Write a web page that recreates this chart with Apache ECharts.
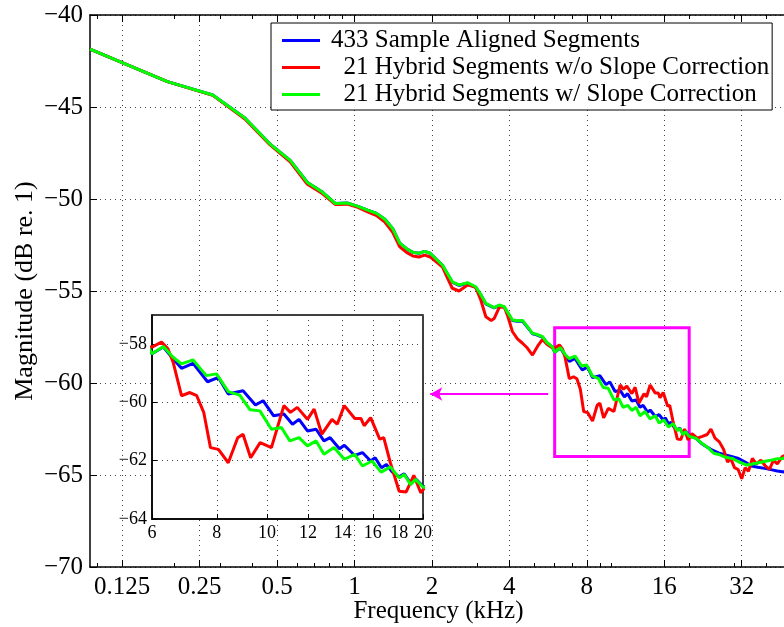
<!DOCTYPE html>
<html><head><meta charset="utf-8">
<script src="https://cdn.jsdelivr.net/npm/echarts@6/dist/echarts.min.js"></script>
<style>html,body{margin:0;padding:0;background:#fff}#c{width:784px;height:627px}</style>
</head><body><div id="c"></div>
<script>
// ---------------- data (frequency in kHz, magnitude in dB) ----------------
const seriesNames = ['433 Sample Aligned Segments', '  21 Hybrid Segments w/o Slope Correction', '  21 Hybrid Segments w/ Slope Correction'];
const seriesColors = ['#0000ff', '#ff0000', '#00ff00'];

const mainXTicks = [0.125, 0.25, 0.5, 1, 2, 4, 8, 16, 32];
const mainXMinorTicks = [0.1, 0.2, 0.3, 0.4, 0.6, 0.7, 0.8, 0.9, 3, 5, 6, 7, 9, 10, 20, 30, 40];
const insetXTicks = [6, 8, 10, 12, 14, 16, 18, 20];

const blueFreq = [0.09375, 0.1875, 0.28125, 0.375, 0.46875, 0.5625, 0.65625, 0.75, 0.84375, 0.9375, 1.03125, 1.125, 1.21875, 1.3125, 1.40625, 1.5, 1.59375, 1.6875, 1.78125, 1.875, 1.96875,
  2.2, 2.4, 2.55, 2.75, 2.96, 3.1, 3.24, 3.49, 3.65, 3.82, 4.11, 4.3, 4.5, 4.92, 5.1, 5.38, 5.6, 5.88,
  6.0, 6.31, 6.59, 6.84, 7.2, 7.68, 8.06, 8.42, 8.99, 9.5, 9.83, 10.3, 10.78, 11.2, 11.53, 11.97, 12.44, 12.88, 13.24, 13.8, 14.1, 14.77, 15.28, 15.85, 16.17, 16.63, 17.0, 17.45, 17.99, 18.4, 18.93, 19.35, 20.0,
  21.2, 22.4, 23.6, 24.5, 26.0, 27.7, 29.4, 31.1, 33.0, 34.9, 37.0, 39.3, 42.0, 44.0, 46.1, 48.0];
const blueMag = [-41.85, -43.62, -44.35, -45.6, -47.0, -47.9, -49.1, -49.62, -50.25, -50.22, -50.4, -50.6, -50.78, -51.1, -51.6, -52.4, -52.7, -52.9, -52.95, -52.85, -52.95,
  -53.62, -54.52, -54.7, -54.58, -54.8, -55.22, -55.7, -55.92, -55.8, -55.88, -56.6, -56.65, -56.63, -57.32, -57.38, -57.5, -57.82, -58.05,
  -58.33, -58.1, -58.5, -58.83, -58.66, -59.29, -59.14, -59.71, -59.6, -60.09, -59.94, -60.46, -60.4, -60.75, -60.58, -60.98, -60.92, -61.32, -61.21, -61.59, -61.47, -61.82, -61.72, -62.01, -61.9, -62.24, -62.13, -62.39, -62.55, -62.45, -62.78, -62.62, -62.88,
  -63.0, -63.3, -63.5, -63.64, -63.8, -63.91, -64.0, -64.1, -64.3, -64.51, -64.58, -64.64, -64.72, -64.78, -64.82, -64.85];

const redFreq = [0.09375, 0.1875, 0.28125, 0.375, 0.46875, 0.5625, 0.65625, 0.75, 0.84375, 0.9375, 1.03125, 1.125, 1.21875, 1.3125, 1.40625, 1.5, 1.59375, 1.6875, 1.78125, 1.875, 1.96875,
  2.2, 2.3, 2.4, 2.55, 2.75, 2.96, 3.1, 3.24, 3.4, 3.49, 3.65, 3.82, 3.95, 4.11, 4.3, 4.5, 4.7, 4.92, 5.15, 5.38, 5.6, 5.88,
  6.0, 6.26, 6.44, 6.59, 6.84, 7.1, 7.32, 7.55, 7.78, 8.06, 8.42, 8.78, 8.99, 9.3, 9.7, 10.2, 10.78, 11.1, 11.44, 11.97, 12.33, 12.76, 13.35, 13.66, 14.1, 14.77, 15.18, 15.4, 15.85, 16.5, 16.8, 17.3, 17.45, 17.99, 18.56, 19.2, 19.8, 20.5,
  21.5, 22.5, 23.5, 24.3, 25.2, 26.2, 27.2, 28.2, 29.0, 30.0, 31.0, 32.0, 33.0, 34.0, 35.2, 36.5, 38.0, 39.5, 41.0, 42.5, 44.0, 46.0, 48.0];
const redMag = [-41.85, -43.62, -44.37, -45.65, -47.05, -47.98, -49.2, -49.7, -50.3, -50.28, -50.45, -50.7, -50.9, -51.25, -51.8, -52.6, -52.9, -53.1, -53.15, -53.05, -53.15,
  -53.7, -54.3, -54.85, -55.0, -54.67, -54.8, -55.5, -56.4, -56.6, -56.5, -55.9, -55.85, -56.4, -57.2, -57.6, -57.84, -58.1, -58.48, -58.0, -57.63, -57.9, -58.1,
  -58.1, -57.93, -58.16, -58.62, -59.77, -59.66, -59.77, -60.34, -61.55, -61.61, -62.07, -61.21, -61.09, -61.9, -61.38, -61.55, -60.11, -60.34, -60.17, -60.58, -60.23, -61.09, -60.58, -60.75, -60.11, -60.55, -60.55, -60.8, -60.52, -61.26, -61.21, -62.07, -62.13, -63.05, -63.07, -62.5, -63.1, -62.75,
  -63.0, -62.9, -62.8, -62.5, -63.0, -63.2, -63.6, -64.3, -64.1, -64.6, -64.7, -65.2, -64.6, -64.8, -64.1, -64.4, -64.2, -64.5, -64.7, -64.2, -64.4, -64.0, -63.9];

const greenFreq = [0.09375, 0.1875, 0.28125, 0.375, 0.46875, 0.5625, 0.65625, 0.75, 0.84375, 0.9375, 1.03125, 1.125, 1.21875, 1.3125, 1.40625, 1.5, 1.59375, 1.6875, 1.78125, 1.875, 1.96875,
  2.2, 2.4, 2.55, 2.75, 2.96, 3.1, 3.24, 3.49, 3.65, 3.82, 4.11, 4.3, 4.5, 4.92, 5.1, 5.38, 5.6, 5.88,
  6.0, 6.31, 6.59, 6.84, 7.2, 7.64, 7.99, 8.42, 8.86, 9.27, 9.69, 10.2, 10.66, 11.07, 11.53, 11.97, 12.44, 12.88, 13.47, 14.1, 14.77, 15.28, 15.95, 16.6, 17.3, 17.99, 18.4, 18.93, 19.35, 20.0,
  21.2, 22.4, 23.6, 24.9, 26.3, 27.7, 29.4, 31.1, 33.5, 35.3, 37.2, 39.5, 42.0, 44.0, 46.0, 48.0];
const greenMag = [-41.85, -43.62, -44.35, -45.6, -47.0, -47.9, -49.1, -49.62, -50.25, -50.22, -50.4, -50.6, -50.78, -51.1, -51.6, -52.4, -52.7, -52.9, -52.95, -52.85, -52.95,
  -53.6, -54.5, -54.67, -54.55, -54.77, -55.2, -55.67, -55.9, -55.76, -55.85, -56.58, -56.62, -56.6, -57.3, -57.35, -57.48, -57.8, -58.03,
  -58.33, -58.08, -58.45, -58.68, -58.54, -59.08, -59.02, -59.63, -59.75, -60.25, -60.29, -60.92, -60.86, -61.32, -61.21, -61.49, -61.32, -61.78, -61.55, -61.95, -61.78, -62.18, -62.01, -62.39, -62.21, -62.59, -62.47, -62.82, -62.64, -62.9,
  -63.0, -63.28, -63.5, -63.82, -63.9, -64.04, -64.1, -64.28, -64.46, -64.4, -64.33, -64.25, -64.18, -64.12, -64.1, -64.05];

// annotation: zoom box and arrow (data coordinates)
const zoomBox = { f0: 6, f1: 20, m0: -57, m1: -64 };
const arrowFrom = [5.66, -60.6];
const arrowTo = [1.97, -60.6];

// ---------------- chart ----------------
const FONT = 'Liberation Serif';
const minus = v => (v < 0 ? '\u2212' + Math.abs(v) : String(v));
const fmtNum = v => String(+Number(v).toPrecision(6));
const zip = (f, m) => f.map((x, i) => [x, m[i]]);
const dataSets = [zip(blueFreq, blueMag), zip(redFreq, redMag), zip(greenFreq, greenMag)];
const dotted = { color: '#444', width: 1, type: [1, 4] };

const mainX = {
  gridIndex: 0, type: 'log', logBase: 2, min: 0.09375, max: 48, z: 0
};

const chart = echarts.init(document.getElementById('c'), null, { renderer: 'canvas' });
const option = {
  animation: false,
  backgroundColor: '#fff',
  textStyle: { fontFamily: FONT },
  grid: [
    { left: 90, top: 15, right: -3, bottom: 60, outerBoundsMode: 'none', containLabel: false },
    { left: 152, top: 315, width: 271, height: 204, outerBoundsMode: 'none', containLabel: false, show: true, backgroundColor: '#fff', borderColor: '#000', borderWidth: 1.5, z: 1 }
  ],
  legend: {
    data: seriesNames, orient: 'vertical', left: 271, top: 23,
    padding: [5, 3, 3, 11], itemGap: 2, itemWidth: 38, itemHeight: 3, icon: 'rect',
    backgroundColor: '#fff', borderColor: '#000', borderWidth: 1, z: 10,
    textStyle: { fontFamily: FONT, fontSize: 25, color: '#000', lineHeight: 25, padding: [0, 0, 0, 6] }
  },
  xAxis: [
    Object.assign({}, mainX, {
      position: 'bottom',
      name: 'Frequency (kHz)', nameLocation: 'middle', nameGap: 32, nameMoveOverlap: false,
      nameTextStyle: { fontFamily: FONT, fontSize: 25, color: '#000' },
      axisLine: { show: true, lineStyle: { color: '#000', width: 1.5 } },
      axisTick: { show: true, inside: true, length: 7, customValues: mainXTicks, lineStyle: { color: '#000' } },
      axisLabel: { customValues: mainXTicks, formatter: fmtNum, fontFamily: FONT, fontSize: 25, color: '#000', margin: 8 },
      splitLine: { show: true, lineStyle: dotted }
    }),
    Object.assign({}, mainX, {
      position: 'top',
      axisLine: { show: true, lineStyle: { color: '#000', width: 1.5 } },
      axisTick: { show: true, inside: true, length: 7, customValues: mainXTicks, lineStyle: { color: '#000' } },
      axisLabel: { show: false }, splitLine: { show: false }
    }),
    Object.assign({}, mainX, {
      position: 'bottom',
      axisLine: { show: false },
      axisTick: { show: true, inside: true, length: 4, customValues: mainXMinorTicks, lineStyle: { color: '#000' } },
      axisLabel: { show: false }, splitLine: { show: false }
    }),
    Object.assign({}, mainX, {
      position: 'top',
      axisLine: { show: false },
      axisTick: { show: true, inside: true, length: 4, customValues: mainXMinorTicks, lineStyle: { color: '#000' } },
      axisLabel: { show: false }, splitLine: { show: false }
    }),
    {
      gridIndex: 1, type: 'log', logBase: 2, min: 6, max: 20, z: 2,
      axisLine: { show: true, lineStyle: { color: '#000', width: 1.5 } },
      axisTick: { show: true, inside: true, length: 5, customValues: insetXTicks, lineStyle: { color: '#000' } },
      axisLabel: { customValues: insetXTicks, formatter: fmtNum, fontFamily: FONT, fontSize: 18, color: '#000', margin: 5 },
      splitLine: { show: true, lineStyle: dotted }
    }
  ],
  yAxis: [
    {
      gridIndex: 0, type: 'value', min: -70, max: -40, interval: 5, z: 0,
      name: 'Magnitude (dB re. 1)', nameLocation: 'middle', nameGap: 52, nameRotate: 90, nameMoveOverlap: false,
      nameTextStyle: { fontFamily: FONT, fontSize: 26, color: '#000' },
      axisLine: { show: true, lineStyle: { color: '#000', width: 1.5 } },
      axisTick: { show: true, inside: true, length: 7, lineStyle: { color: '#000' } },
      axisLabel: { formatter: minus, fontFamily: FONT, fontSize: 25, color: '#000', margin: 7 },
      splitLine: { show: true, lineStyle: dotted }
    },
    {
      gridIndex: 1, type: 'value', min: -64, max: -57, interval: 2, z: 2,
      axisLine: { show: true, lineStyle: { color: '#000', width: 1.5 } },
      axisTick: { show: true, inside: true, length: 5, lineStyle: { color: '#000' } },
      axisLabel: { formatter: minus, fontFamily: FONT, fontSize: 18, color: '#000', margin: 5, showMaxLabel: false },
      splitLine: { show: true, lineStyle: dotted }
    }
  ],
  series: []
};

// main plot series
dataSets.forEach((d, i) => {
  const s = {
    name: seriesNames[i], type: 'line', xAxisIndex: 0, yAxisIndex: 0,
    data: d, showSymbol: false, symbol: 'none', z: 2 + i * 0.1, clip: true,
    lineStyle: { color: seriesColors[i], width: 3 }, itemStyle: { color: seriesColors[i] }
  };
  if (i === 2) {
    s.markArea = {
      silent: true,
      itemStyle: { color: 'rgba(0,0,0,0)', borderColor: '#ff00ff', borderWidth: 3 },
      data: [[{ coord: [zoomBox.f0, zoomBox.m0] }, { coord: [zoomBox.f1, zoomBox.m1] }]]
    };
    s.markLine = {
      silent: true, symbol: ['none', 'arrow'], symbolSize: [10, 12],
      label: { show: false },
      lineStyle: { color: '#ff00ff', width: 2, type: 'solid' },
      data: [[{ coord: arrowFrom }, { coord: arrowTo }]]
    };
  }
  option.series.push(s);
});
// inset series (same data, zoomed axes)
dataSets.forEach((d, i) => {
  option.series.push({
    name: seriesNames[i], type: 'line', xAxisIndex: 4, yAxisIndex: 1,
    data: d, showSymbol: false, symbol: 'none', z: 3 + i * 0.1, clip: true,
    lineStyle: { color: seriesColors[i], width: 3 }, itemStyle: { color: seriesColors[i] }
  });
});

chart.setOption(option);
</script>
</body></html>
